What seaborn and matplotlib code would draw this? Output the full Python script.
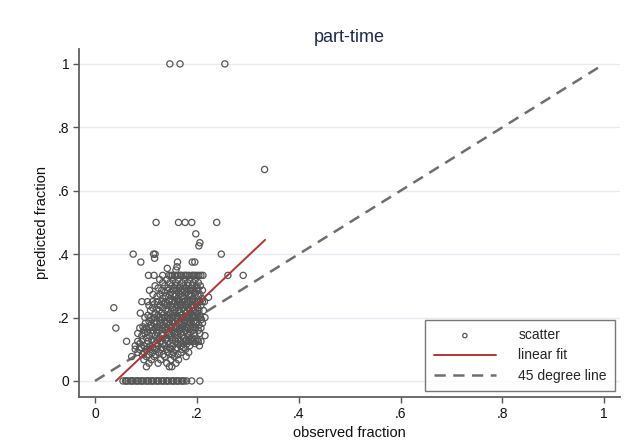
import numpy as np
import pandas as pd
import matplotlib
matplotlib.use("Agg")
import matplotlib.pyplot as plt
import seaborn as sns

# predicted fraction levels and the observed fractions that sit on each level
pred_levels = [0.0, 1.0, 0.667, 0.5, 0.464, 0.436, 0.426, 0.40, 0.387, 0.375,
               0.36, 0.355, 0.35, 0.333, 0.32, 0.31, 0.30, 0.293, 0.286, 0.28,
               0.273, 0.267, 0.264, 0.26, 0.25, 0.243, 0.238, 0.231, 0.226, 0.222,
               0.214, 0.207, 0.20, 0.194, 0.188, 0.182, 0.176, 0.171, 0.167, 0.16,
               0.154, 0.15, 0.143, 0.136, 0.13, 0.125, 0.118, 0.111, 0.105, 0.10,
               0.09, 0.083, 0.077, 0.067, 0.056, 0.045]
obs_by_level = [
    [0.055, 0.06, 0.062, 0.065, 0.07, 0.072, 0.075, 0.08, 0.083, 0.085, 0.09, 0.092,
     0.095, 0.10, 0.103, 0.105, 0.11, 0.112, 0.115, 0.12, 0.123, 0.125, 0.13, 0.133,
     0.135, 0.14, 0.142, 0.145, 0.15, 0.153, 0.155, 0.16, 0.162, 0.165, 0.17, 0.172,
     0.175, 0.18, 0.19, 0.206],
    [0.147, 0.167, 0.255],
    [0.333],
    [0.12, 0.164, 0.177, 0.19, 0.239],
    [0.198],
    [0.206],
    [0.204],
    [0.075, 0.115, 0.118, 0.248],
    [0.117],
    [0.09, 0.162, 0.191, 0.196],
    [0.161],
    [0.142],
    [0.159],
    [0.105, 0.116, 0.133, 0.145, 0.149, 0.152, 0.156, 0.159, 0.162, 0.168, 0.17, 0.175,
     0.178, 0.181, 0.185, 0.19, 0.193, 0.196, 0.20, 0.204, 0.208, 0.212, 0.261, 0.291],
    [0.127, 0.141, 0.153, 0.163, 0.177, 0.186, 0.197],
    [0.133, 0.147, 0.158, 0.171, 0.182, 0.193, 0.203],
    [0.118, 0.137, 0.151, 0.159, 0.167, 0.174, 0.183, 0.191, 0.199, 0.207],
    [0.124, 0.143, 0.156, 0.166, 0.179, 0.188, 0.201],
    [0.107, 0.131, 0.142, 0.154, 0.161, 0.169, 0.176, 0.187, 0.194, 0.202, 0.211],
    [0.137, 0.149, 0.164, 0.172, 0.181, 0.196],
    [0.114, 0.128, 0.146, 0.153, 0.159, 0.167, 0.177, 0.184, 0.189, 0.197, 0.206],
    [0.122, 0.139, 0.157, 0.171, 0.186, 0.203],
    [0.223],
    [0.133, 0.148, 0.163, 0.174, 0.192, 0.21],
    [0.092, 0.103, 0.113, 0.122, 0.131, 0.138, 0.146, 0.151, 0.157, 0.162, 0.166,
     0.171, 0.176, 0.181, 0.187, 0.191, 0.196, 0.201, 0.206, 0.211, 0.215],
    [0.117, 0.136, 0.154, 0.169, 0.183, 0.199],
    [0.106, 0.127, 0.141, 0.149, 0.161, 0.168, 0.178, 0.188, 0.194, 0.208],
    [0.037, 0.113, 0.133, 0.152, 0.159, 0.173, 0.182, 0.191, 0.202],
    [0.121, 0.144, 0.165, 0.185, 0.197],
    [0.109, 0.126, 0.139, 0.156, 0.163, 0.176, 0.181, 0.194, 0.204, 0.213],
    [0.089, 0.118, 0.131, 0.148, 0.157, 0.167, 0.179, 0.187, 0.199],
    [0.104, 0.124, 0.142, 0.153, 0.171, 0.184, 0.193, 0.206],
    [0.098, 0.108, 0.117, 0.126, 0.132, 0.137, 0.143, 0.147, 0.152, 0.158, 0.162,
     0.167, 0.172, 0.177, 0.182, 0.186, 0.191, 0.196, 0.202, 0.207, 0.216],
    [0.112, 0.129, 0.146, 0.161, 0.175, 0.189, 0.209],
    [0.106, 0.121, 0.136, 0.151, 0.158, 0.169, 0.181, 0.194, 0.201],
    [0.099, 0.116, 0.128, 0.141, 0.154, 0.164, 0.176, 0.186, 0.198, 0.211],
    [0.109, 0.134, 0.147, 0.171, 0.183, 0.204],
    [0.094, 0.112, 0.123, 0.139, 0.151, 0.161, 0.173, 0.179, 0.192],
    [0.041, 0.088, 0.101, 0.108, 0.118, 0.127, 0.133, 0.142, 0.149, 0.158, 0.166,
     0.171, 0.182, 0.188, 0.197, 0.208],
    [0.096, 0.114, 0.126, 0.138, 0.152, 0.166, 0.178, 0.193, 0.203],
    [0.103, 0.121, 0.144, 0.161, 0.174, 0.187],
    [0.084, 0.098, 0.113, 0.131, 0.146, 0.156, 0.168, 0.181, 0.194, 0.206],
    [0.092, 0.107, 0.118, 0.133, 0.149, 0.162, 0.171, 0.184, 0.196, 0.216],
    [0.101, 0.127, 0.141, 0.157, 0.176, 0.191],
    [0.093, 0.112, 0.122, 0.138, 0.151, 0.164, 0.179, 0.188, 0.201],
    [0.062, 0.084, 0.104, 0.116, 0.128, 0.143, 0.158, 0.168, 0.173, 0.178, 0.184,
     0.189, 0.193, 0.198, 0.203, 0.208],
    [0.088, 0.102, 0.119, 0.133, 0.148, 0.163, 0.181, 0.196],
    [0.079, 0.096, 0.108, 0.124, 0.137, 0.153, 0.168, 0.186, 0.205],
    [0.091, 0.114, 0.131, 0.146, 0.161, 0.174],
    [0.079, 0.087, 0.101, 0.109, 0.121, 0.129, 0.141, 0.149, 0.158, 0.171, 0.178],
    [0.084, 0.097, 0.113, 0.126, 0.143, 0.154, 0.169, 0.184],
    [0.093, 0.106, 0.119, 0.134, 0.151, 0.163],
    [0.072, 0.101, 0.116, 0.137, 0.156, 0.179],
    [0.096, 0.111, 0.129, 0.149, 0.164],
    [0.106, 0.124, 0.141, 0.159],
    [0.101, 0.146, 0.151],
]

# fitted line endpoints
fit_x = [0.041, 0.334]
fit_y = [0.0, 0.445]
diag = [0.0, 1.0]

x_ticks = [0, 0.2, 0.4, 0.6, 0.8, 1.0]
x_labels = ["0", ".2", ".4", ".6", ".8", "1"]
y_ticks = [0, 0.2, 0.4, 0.6, 0.8, 1.0]
y_labels = ["0", ".2", ".4", ".6", ".8", "1"]

rows = [(x, y) for y, xs in zip(pred_levels, obs_by_level) for x in xs]
df = pd.DataFrame(rows, columns=["observed", "predicted"])

sns.set_theme(style="white")
plt.rcParams["font.family"] = ["Liberation Sans", "DejaVu Sans"]

fig = plt.figure(figsize=(6.31, 4.45), dpi=100)
ax = fig.add_axes([0.1252, 0.1079, 0.8574, 0.782])

for t in y_ticks:
    ax.axhline(t, color="#e6ebf1", lw=1.0, zorder=0)

sns.scatterplot(data=df, x="observed", y="predicted", ax=ax, marker="o",
                s=20, facecolor="none", edgecolor="#555555", linewidth=0.9,
                label="scatter", zorder=3)
sns.lineplot(x=fit_x, y=fit_y, ax=ax, color="#b03535", lw=1.4,
             label="linear fit", zorder=4)
sns.lineplot(x=diag, y=diag, ax=ax, color="#6e6e6e", lw=1.8,
             dashes=False, label="45 degree line", zorder=2)
ax.lines[-1].set_linestyle((0, (4.5, 3)))

ax.set_xlim(-0.0314, 1.031)
ax.set_ylim(-0.0505, 1.047)
ax.set_xticks(x_ticks)
ax.set_xticklabels(x_labels)
ax.set_yticks(y_ticks)
ax.set_yticklabels(y_labels)
ax.tick_params(axis="both", direction="out", length=4, width=1.0,
               color="#555555", labelsize=10, labelcolor="#111111", pad=3,
               bottom=True, left=True)

for side in ["top", "right"]:
    ax.spines[side].set_visible(False)
for side in ["left", "bottom"]:
    ax.spines[side].set_color("#606060")
    ax.spines[side].set_linewidth(1.3)

ax.set_xlabel("observed fraction", fontsize=10.5, color="#111111", labelpad=4)
ax.set_ylabel("predicted fraction", fontsize=10.5, color="#111111", labelpad=6)
ax.set_title("part-time", fontsize=13, color="#1c2b4d", pad=5)

leg = ax.legend(loc="lower right", bbox_to_anchor=(0.991, 0.017), fontsize=10,
                frameon=True, fancybox=False, edgecolor="#555555",
                handlelength=4.5, borderpad=0.6, labelspacing=0.45,
                handletextpad=1.6, markerscale=0.7, borderaxespad=0)
leg.get_frame().set_linewidth(1.0)

fig.savefig("out.png", dpi=100)
